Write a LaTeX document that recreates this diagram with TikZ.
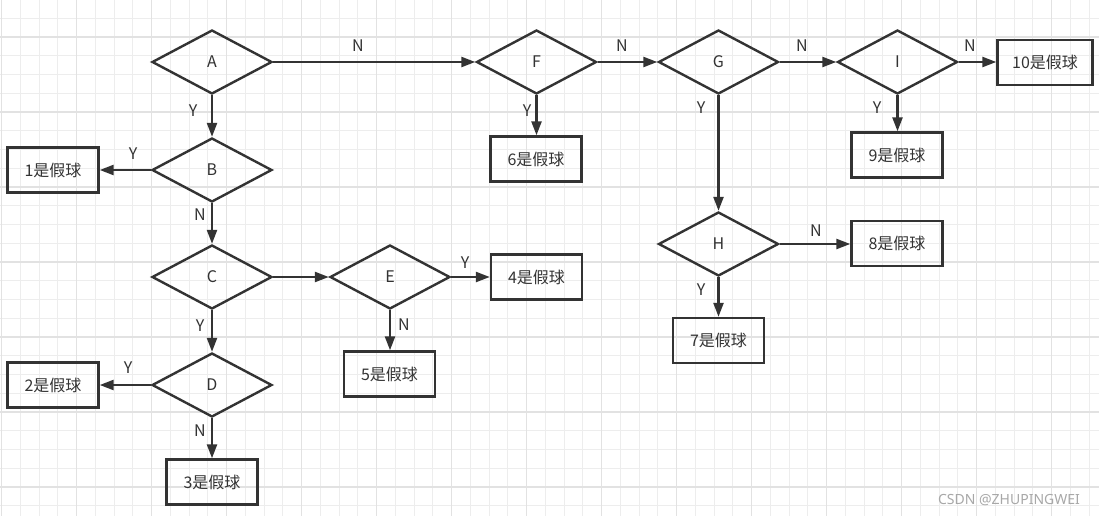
\documentclass[tikz,border=0pt]{standalone}
\usepackage{fontspec}
\setmainfont{Noto Sans CJK SC}
\newfontfamily\wmfont{Noto Sans}
\usetikzlibrary{shapes.geometric,arrows.meta}
\definecolor{ink}{HTML}{333333}
\definecolor{gridminor}{HTML}{EDEDED}
\definecolor{gridmajor}{HTML}{E2E2E2}
\definecolor{wm}{HTML}{A8A8A8}
\tikzset{
  dia/.style={diamond,draw=ink,line width=2.4pt,minimum width=120pt,minimum height=64pt,inner sep=0pt,text=ink,font=\fontsize{16}{16}\selectfont},
  res/.style={rectangle,draw=ink,line width=2.4pt,minimum width=91pt,minimum height=45pt,inner sep=0pt,text=ink,font=\fontsize{16}{16}\selectfont},
  arr/.style={draw=ink,line width=2.4pt,-{Triangle[length=14pt,width=10pt]}},
  lbl/.style={text=ink,inner sep=0pt,font=\fontsize{16}{16}\selectfont},
  gmin/.style={draw=gridminor,line width=1pt},
  gmaj/.style={draw=gridmajor,line width=1.2pt}
}
\begin{document}
\begin{tikzpicture}[x=1pt,y=-1pt]
\useasboundingbox (0,0) rectangle (1099,516);
\fill[white] (0,0) rectangle (1099,516);
% grid
\foreach \i in {0,...,58} \draw[gmin] ({1.7+18.75*\i},0) -- ({1.7+18.75*\i},516);
\foreach \j in {0,...,27} \draw[gmin] (0,{-0.5+18.75*\j}) -- (1099,{-0.5+18.75*\j});
\foreach \i in {0,...,14} \draw[gmaj] ({1.7+75*\i},0) -- ({1.7+75*\i},516);
\foreach \j in {0,...,6} \draw[gmaj] (0,{37+75*\j}) -- (1099,{37+75*\j});
% decision nodes
\node[dia] (A) at (212,62) {A};
\node[dia] (B) at (212,170) {B};
\node[dia] (C) at (212,277) {C};
\node[dia] (D) at (212,385) {D};
\node[dia] (E) at (390,277) {E};
\node[dia] (F) at (536.5,62) {F};
\node[dia] (G) at (718.5,62) {G};
\node[dia] (I) at (897.5,62) {I};
\node[dia] (H) at (718.5,244) {H};
% result boxes
\node[res] (r1) at (53,170) {1是假球};
\node[res] (r2) at (53,385) {2是假球};
\node[res] (r3) at (212,482) {3是假球};
\node[res] (r4) at (536.5,277) {4是假球};
\node[res] (r5) at (389.5,374) {5是假球};
\node[res] (r6) at (536,159) {6是假球};
\node[res] (r7) at (718.5,340.5) {7是假球};
\node[res] (r8) at (897,243.5) {8是假球};
\node[res] (r9) at (897,155) {9是假球};
\node[res,minimum width=95pt] (r10) at (1045,62.5) {10是假球};
% connectors
\draw[arr] (A) -- (F);
\draw[arr] (A) -- (B);
\draw[arr] (B.west) -- (r1.east);
\draw[arr] (B) -- (C);
\draw[arr] (C) -- (E);
\draw[arr] (C) -- (D);
\draw[arr] (D.west) -- (r2.east);
\draw[arr] (D) -- (r3);
\draw[arr] (E.east) -- (r4.west);
\draw[arr] (E.south) -- (E.south |- r5.north);
\draw[arr] (F.south) -- (F.south |- r6.north);
\draw[arr] (F) -- (G);
\draw[arr] (G) -- (I);
\draw[arr] (G) -- (H);
\draw[arr] (I.east) -- (I.east -| r10.west);
\draw[arr] (I.south) -- (I.south |- r9.north);
\draw[arr] (H.east) -- (H.east -| r8.west);
\draw[arr] (H) -- (r7);
% labels
\node[lbl] (lAF) at (358,46) {N};
\node[lbl] (lAB) at (193,111) {Y};
\node[lbl] (lB1) at (133,154) {Y};
\node[lbl] (lBC) at (200,215) {N};
\node[lbl] (lCD) at (200,326) {Y};
\node[lbl] (lD2) at (128,368) {Y};
\node[lbl] (lD3) at (200,431) {N};
\node[lbl] (lE4) at (465,263) {Y};
\node[lbl] (lE5) at (404,325) {N};
\node[lbl] (lF6) at (527,111) {Y};
\node[lbl] (lFG) at (622,46) {N};
\node[lbl] (lGI) at (802,46) {N};
\node[lbl] (lGH) at (701,108) {Y};
\node[lbl] (lI10) at (970,46) {N};
\node[lbl] (lI9) at (877,108) {Y};
\node[lbl] (lH8) at (816,231) {N};
\node[lbl] (lH7) at (701,290) {Y};
% watermark
\node[text=wm,inner sep=0pt,font=\wmfont\fontsize{14}{14}\selectfont] (wmk) at (1009,500) {CSDN @ZHUPINGWEI};
\end{tikzpicture}
\end{document}
